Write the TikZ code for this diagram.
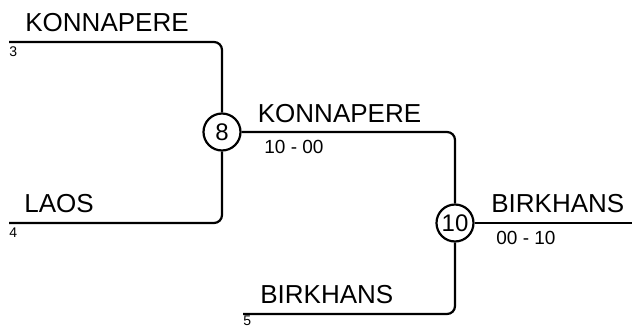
\documentclass[tikz,border=0pt]{standalone}
\usepackage{fontspec}
\setmainfont{Liberation Sans}
\usetikzlibrary{positioning, calc}
\tikzset{
  bline/.style={line width=1.1pt, rounded corners=4pt},
  matchnode/.style={circle, draw, line width=1.1pt, minimum size=18.5pt, inner sep=0pt, font=\fontsize{12}{12}\selectfont},
  teamlabel/.style={anchor=base west, inner sep=0pt, font=\fontsize{13}{13}\selectfont},
  scorelabel/.style={anchor=north west, inner sep=0pt, font=\fontsize{9.5}{9.5}\selectfont},
  seedlabel/.style={anchor=north west, inner sep=0pt, font=\fontsize{7}{7}\selectfont},
}

\begin{document}
\begin{tikzpicture}[x=0.5pt, y=-0.5pt]
  \useasboundingbox (0,0) rectangle (632,327);
  % matches
  \node[matchnode] (m8) at (222,132) {8};
  \node[matchnode] (m10) at (455,223) {10};
  % line starts
  \coordinate (s3) at (9,42);
  \coordinate (s4) at (9,223);
  \coordinate (s5) at (243,314);
  \coordinate (fin) at (632,223);
  % bracket lines
  \draw[bline] (s3) -| (m8);
  \draw[bline] (s4) -| (m8);
  \draw[bline] (m8) -| (m10);
  \draw[bline] (s5) -| (m10);
  \draw[bline] (m10) -- (fin);
  % teams
  \node[teamlabel] (t3) at (25,31) {KONNAPERE};
  \node[teamlabel] (t4) at (24,212.5) {LAOS};
  \node[teamlabel] (w8) at (257.5,122) {KONNAPERE};
  \node[teamlabel] (t5) at (260,303) {BIRKHANS};
  \node[teamlabel] (w10) at (491,212) {BIRKHANS};
  % seeds and scores
  \node[seedlabel] (n3) at (9,46.5) {3};
  \node[seedlabel] (n4) at (9,227.5) {4};
  \node[seedlabel] (n5) at (243,315.5) {5};
  \node[scorelabel] (r8) at (264,139.5) {10 - 00};
  \node[scorelabel] (r10) at (496,231) {00 - 10};
\end{tikzpicture}
\end{document}
